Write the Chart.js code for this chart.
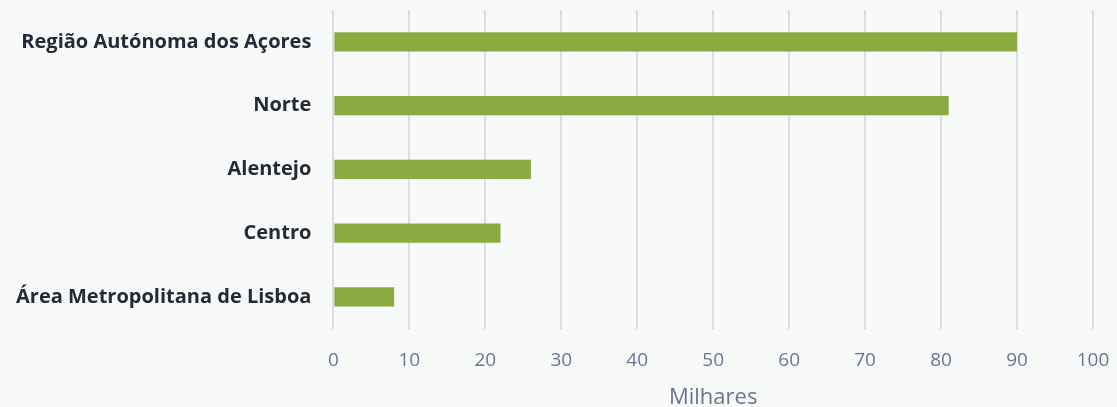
<!DOCTYPE html>
<html><head><meta charset="utf-8">
<script src="https://cdn.jsdelivr.net/npm/chart.js@4"></script>
<style>html,body{margin:0;padding:0;background:#f8f9f9;}#w{width:1117px;height:407px;}</style>
</head><body><div id="w"><canvas id="c"></canvas></div>
<script>
const categories = ["Região Autónoma dos Açores","Norte","Alentejo","Centro","Área Metropolitana de Lisboa"];
const values = [90, 81, 26, 22, 8];
const xTitle = "Milhares";

new Chart(document.getElementById('c'), {
  type: 'bar',
  data: { labels: categories, datasets: [{ data: values, backgroundColor: '#8aab3f', barPercentage: 0.6, categoryPercentage: 0.5 }] },
  options: {
    indexAxis: 'y', responsive: true, maintainAspectRatio: false, animation: false,
    layout: { padding: { top: 10, right: 24, bottom: -4, left: -6 } },
    plugins: { legend: { display: false }, tooltip: { enabled: false } },
    scales: {
      x: { min: 0, max: 100, ticks: { stepSize: 10, color: '#6b7590', font: { family: 'Open Sans', size: 19 }, padding: 20 },
           grid: { color: '#dcdde3', lineWidth: 2, drawTicks: false }, border: { display: false },
           title: { display: true, text: xTitle, color: '#6b7590', font: { family: 'Open Sans', size: 22 }, padding: { top: -7, bottom: 0 } },
           afterFit: (s) => { s.paddingRight = 0; } },
      y: { ticks: { color: '#262a36', font: { family: 'Open Sans', size: 20, weight: 'bold' }, padding: 22 },
           grid: { display: false, drawTicks: false }, border: { display: false },
           afterFit: (s) => { s.paddingTop = 0; s.paddingBottom = 0; } }
    }
  }
});
</script></body></html>
